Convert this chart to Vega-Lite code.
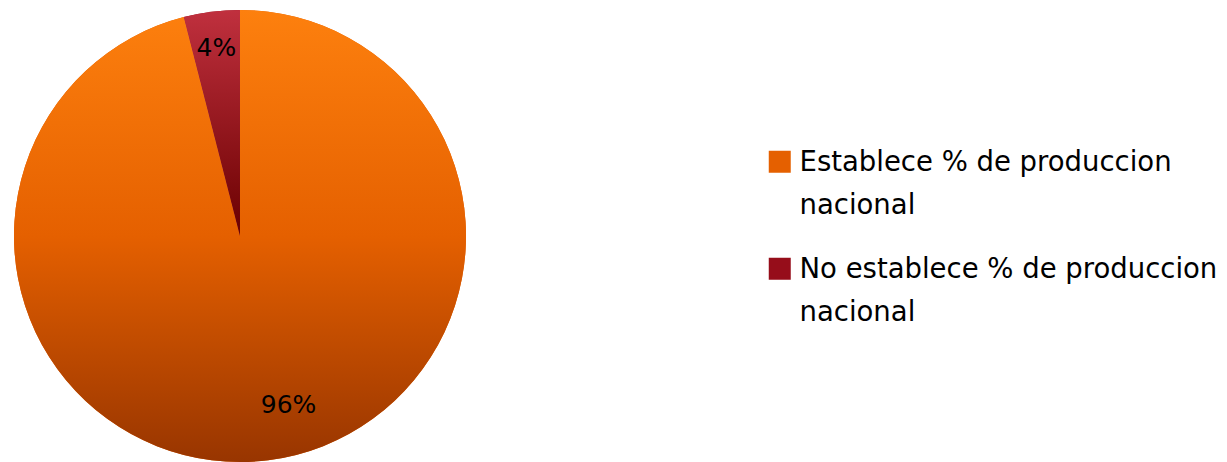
{
  "$schema": "https://vega.github.io/schema/vega-lite/v6.json",
  "width": 480,
  "height": 452,
  "padding": {"top": 10, "left": 0, "right": 0, "bottom": 0},
  "background": "white",
  "data": {"values": [
    {"categoria": "Establece % de produccion nacional", "valor": 96, "etiqueta": "96%"},
    {"categoria": "No establece % de produccion nacional", "valor": 4, "etiqueta": "4%"}
  ]},
  "encoding": {
    "theta": {"field": "valor", "type": "quantitative", "stack": true},
    "order": {"field": "categoria", "type": "nominal", "sort": "ascending"}
  },
  "layer": [
    {
      "mark": {"type": "arc", "outerRadius": 226, "stroke": null},
      "encoding": {
        "color": {
          "field": "categoria",
          "type": "nominal",
          "scale": {
            "domain": ["Establece % de produccion nacional", "No establece % de produccion nacional"],
            "range": ["#e56000", "#960d1a"]
          },
          "legend": {
            "orient": "none",
            "legendX": 766,
            "legendY": 138,
            "title": null,
            "symbolType": "square",
            "symbolSize": 484,
            "symbolStrokeWidth": 0,
            "labelFont": "DejaVu Sans",
            "labelFontSize": 27.5,
            "labelColor": "#000000",
            "labelOffset": 6,
            "labelLimit": 500,
            "labelBaseline": "top",
            "labelExpr": "[replace(datum.label, ' nacional', ''), 'nacional']",
            "rowPadding": 35
          }
        }
      }
    },
    {
      "mark": {"type": "arc", "outerRadius": 226, "stroke": null},
      "encoding": {
        "fill": {
          "condition": {"test": "datum.categoria === 'No establece % de produccion nacional'", "value": {"gradient": "linear", "x1": 0, "y1": 0, "x2": 0, "y2": 1, "stops": [{"offset": 0, "color": "#c0303e"}, {"offset": 1, "color": "#6a0000"}]}},
          "value": {"gradient": "linear", "x1": 0, "y1": 0, "x2": 0, "y2": 1, "stops": [{"offset": 0, "color": "#fd800e"}, {"offset": 0.5, "color": "#e56000"}, {"offset": 1, "color": "#983500"}]}
        }
      }
    },
    {
      "mark": {"type": "text", "radius": 189, "font": "DejaVu Sans", "fontSize": 25, "fill": "#000000"},
      "encoding": {"text": {"condition": {"test": "datum.valor < 50", "field": "etiqueta"}, "value": ""}}
    },
    {
      "mark": {"type": "text", "radius": 176, "thetaOffset": -0.154, "font": "DejaVu Sans", "fontSize": 25, "fill": "#000000"},
      "encoding": {"text": {"condition": {"test": "datum.valor >= 50", "field": "etiqueta"}, "value": ""}}
    }
  ],
  "config": {
    "view": {"stroke": null},
    "style": {"guide-label": {"lineHeight": 43, "dy": -13}}
  }
}
